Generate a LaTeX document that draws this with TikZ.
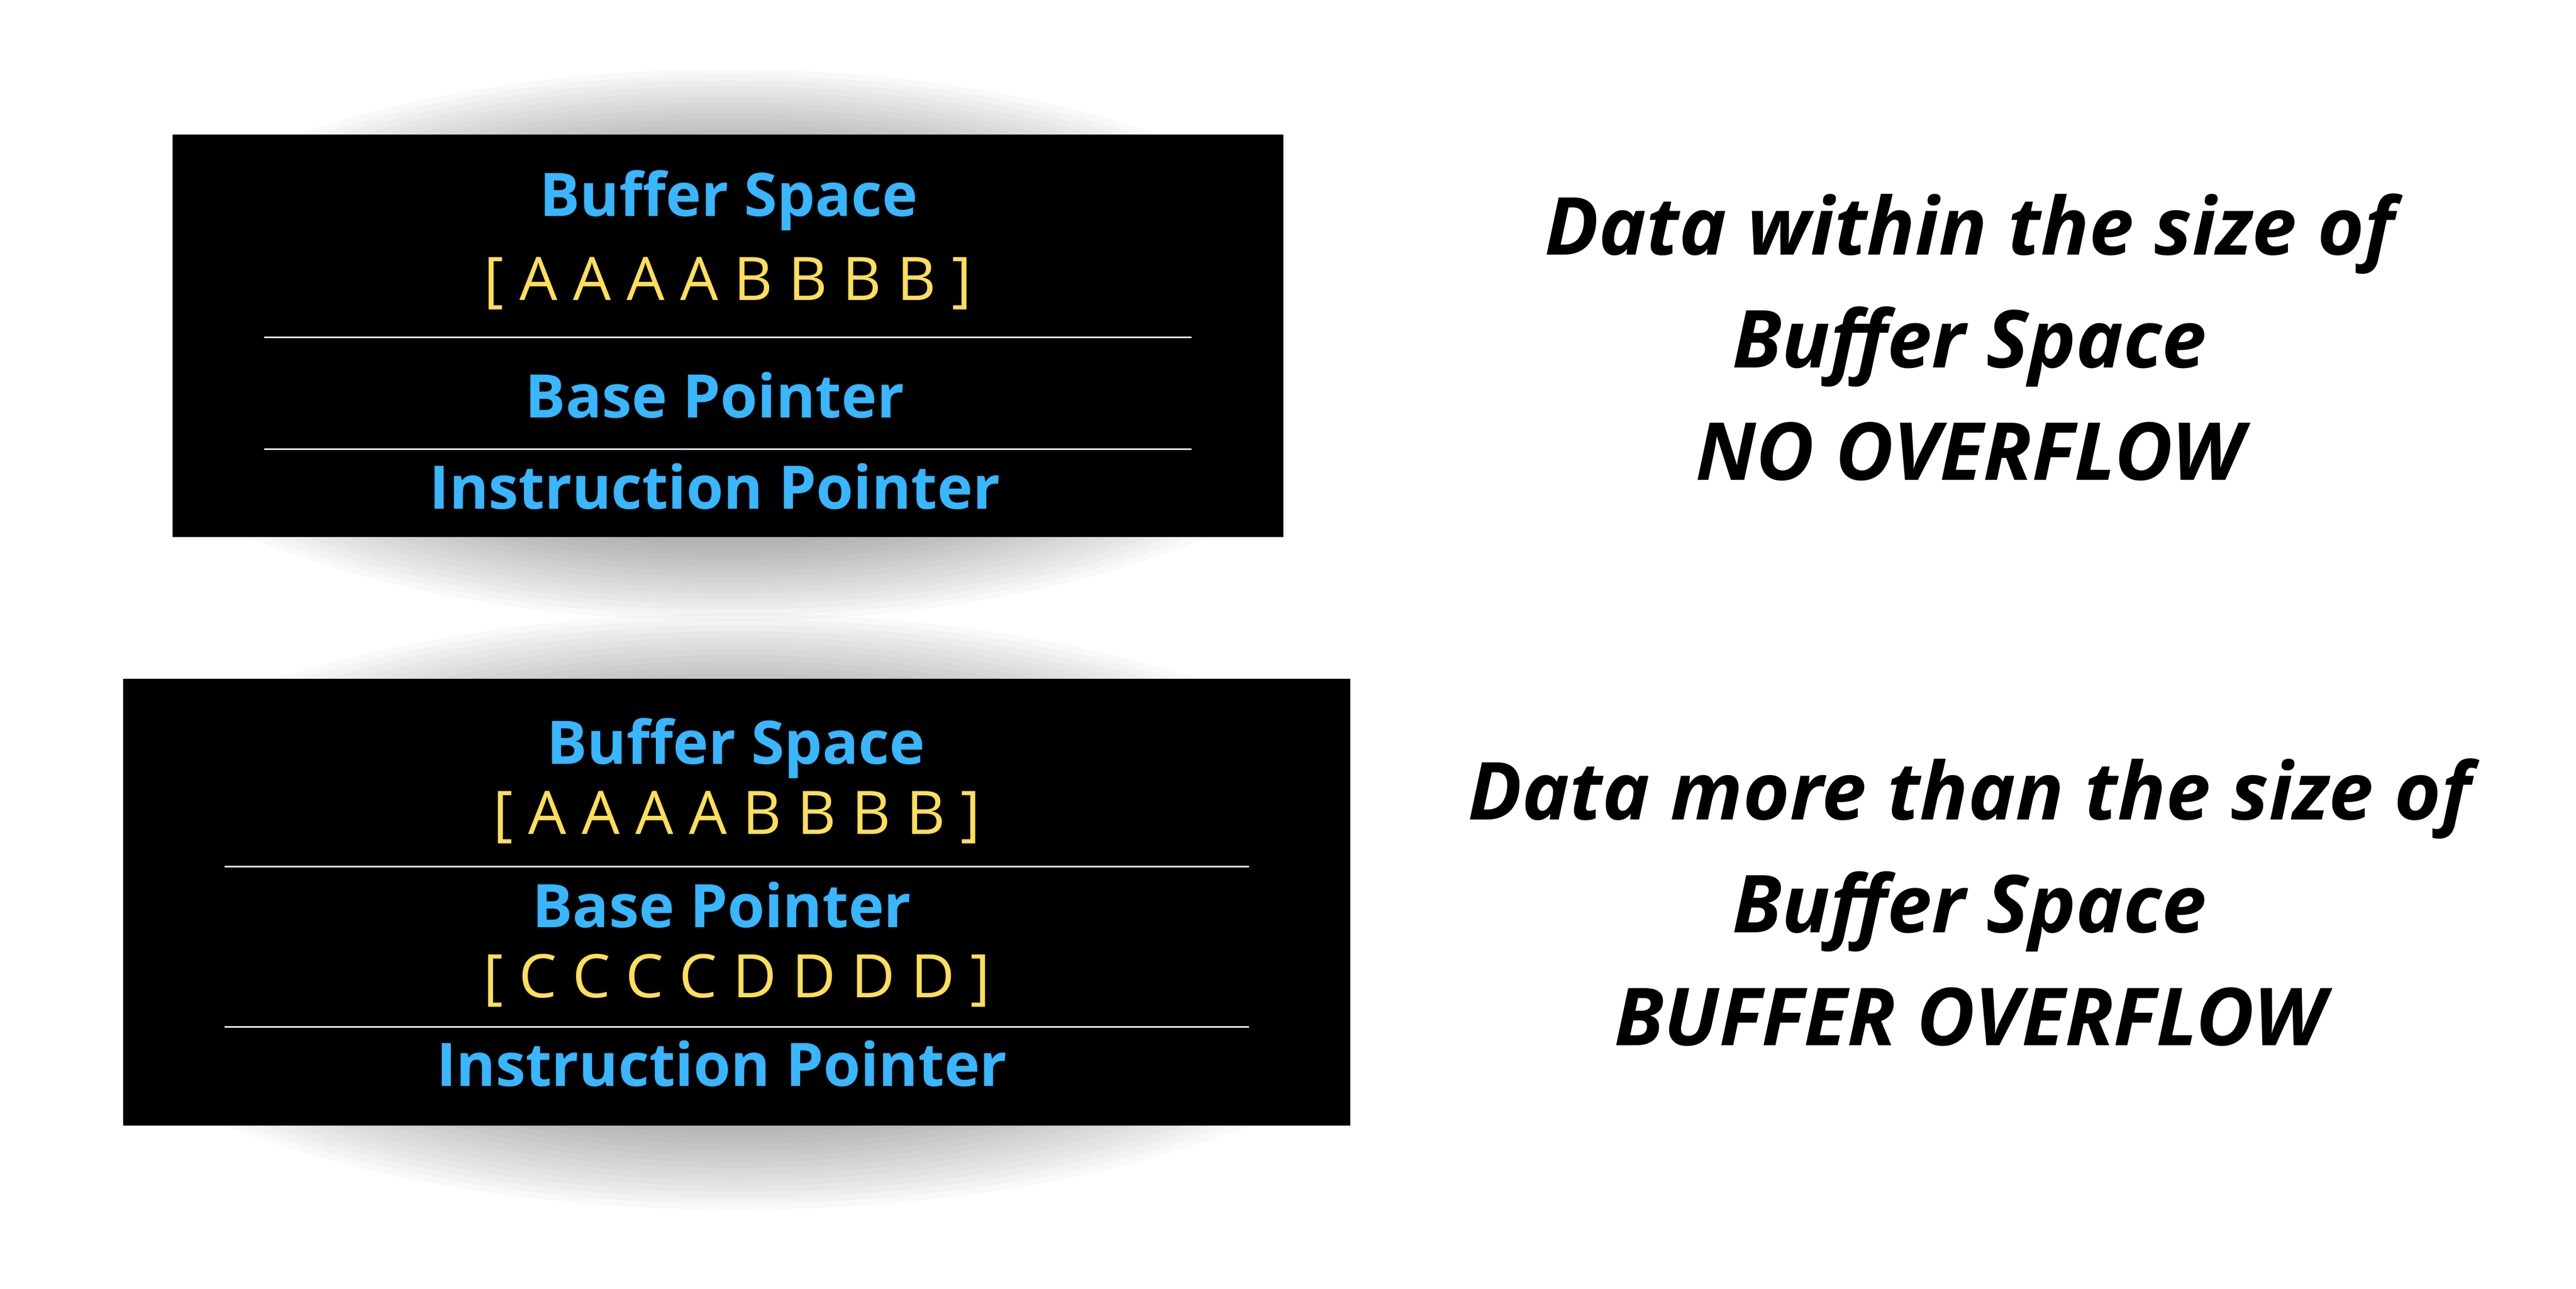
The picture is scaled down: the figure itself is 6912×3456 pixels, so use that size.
\documentclass[tikz,border=0pt]{standalone}
\usepackage{fontspec}
\setmainfont{Open Sans}

\definecolor{stackblue}{HTML}{38B6FF}
\definecolor{stackyellow}{HTML}{FFDE59}
\def\boxfont{\fontsize{45.8}{55}\selectfont}
\def\notefont{\fontsize{61}{73}\selectfont}
\def\layers{14}

\begin{document}
\begin{tikzpicture}[x=0.01cm,y=-0.01cm,
    slot/.style={text=stackblue,font=\boxfont\bfseries,anchor=base,inner sep=0pt},
    bytes/.style={text=stackyellow,font=\boxfont,anchor=base,inner sep=0pt},
    sidenote/.style={font=\notefont\bfseries\itshape,anchor=base,inner sep=0pt},
    divider/.style={draw=white,line width=0.04cm,line cap=round}]
  \useasboundingbox (0,0) rectangle (6912,3456);
  % Soft shadows above and below both stacks
  \foreach \cx/\cy/\hw/\hh in {1953/926/1490/740, 1977/2445/1646/800} {
    \begin{scope}
      \clip ({\cx-\hw},0) rectangle ({\cx+\hw},3456); % Nothing beside the box
      \foreach \k in {0,...,\layers} {
        \pgfmathsetmacro\s{1-0.02*\k}     % Shrink each layer
        \fill[black,opacity=0.025] (\cx,\cy) ellipse ({1.2*\s*\hw} and {\s*\hh});
      }
    \end{scope}
  }
  % Stack without overflow
  \fill[black] (463,361) rectangle (3443,1441);
  \node[slot]  (buf1) at (1955,580)  {Buffer Space};
  \node[bytes] (ab1)  at (1953,805)  {[ A A A A B B B B ]};
  \node[slot]  (bp1)  at (1918,1120) {Base Pointer};
  \node[slot]  (ip1)  at (1918,1365) {Instruction Pointer};
  \draw[divider] (710,905) -- (3196,905);
  \draw[divider] (710,1205) -- (3196,1205);
  % Stack with overflow
  \fill[black] (331,1820) rectangle (3623,3019);
  \node[slot]  (buf2) at (1975,2049) {Buffer Space};
  \node[bytes] (ab2)  at (1977,2238) {[ A A A A B B B B ]};
  \node[slot]  (bp2)  at (1937,2487) {Base Pointer};
  \node[bytes] (cd2)  at (1977,2676) {[ C C C C D D D D ]};
  \node[slot]  (ip2)  at (1937,2913) {Instruction Pointer};
  \draw[divider] (604,2325) -- (3350,2325);
  \draw[divider] (604,2754) -- (3350,2754);
  % Notes on the right
  \foreach \y/\txt/\name in {
      684/Data within the size of/n1,
      986/Buffer Space/n2,
      1288/NO OVERFLOW/n3,
      2199/Data more than the size of/n4,
      2501/Buffer Space/n5,
      2804/BUFFER OVERFLOW/n6
    } {
      \node[sidenote] (\name) at (5285,\y) {\txt};
    };
\end{tikzpicture}
\end{document}
